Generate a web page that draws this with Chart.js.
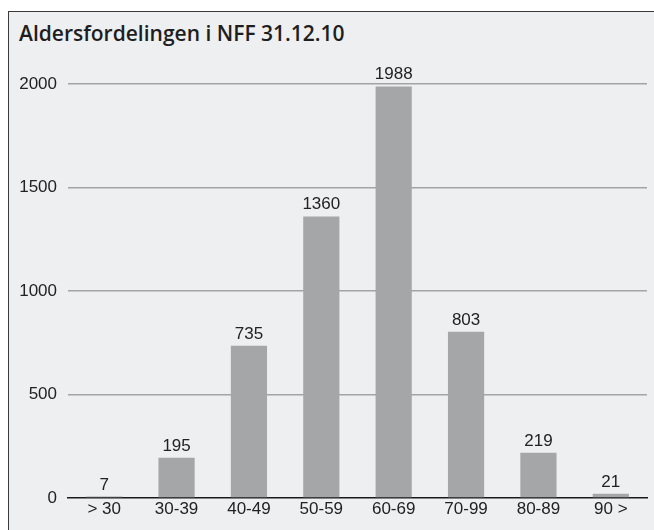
<!DOCTYPE html>
<html>
<head>
<meta charset="utf-8">
<script src="https://cdn.jsdelivr.net/npm/chart.js@4/dist/chart.umd.min.js"></script>
<style>
  html, body { margin: 0; padding: 0; background: #fff; }
  #box {
    position: absolute; left: 8px; top: 11px; width: 646px; height: 519px;
    background: #eeeff1; border-top: 1.5px solid #3a3a3a; border-left: 1.5px solid #3a3a3a;
  }
  #title {
    position: absolute; left: 10px; top: 7px; margin: 0;
    font-family: "Open Sans", sans-serif; font-weight: 600; font-size: 21px; color: #1e1e1e;
  }
  #wrap { position: absolute; left: 0; top: 0; width: 645px; height: 518px; }
</style>
</head>
<body>
<div id="box">
  <div id="title">Aldersfordelingen i NFF 31.12.10</div>
  <div id="wrap"><canvas id="c"></canvas></div>
</div>
<script>
// --- data ---
const ageGroups = ['> 30', '30-39', '40-49', '50-59', '60-69', '70-99', '80-89', '90 >'];
const members = [7, 195, 735, 1360, 1988, 803, 219, 21];
const yTicks = [0, 500, 1000, 1500, 2000];

const FONT = '"Liberation Sans", Arial, sans-serif';

// value labels over bars
const valueLabels = {
    id: 'valueLabels',
    afterDatasetsDraw(chart) {
        const ctx = chart.ctx;
        const meta = chart.getDatasetMeta(0);
        ctx.save();
        ctx.font = '17px ' + FONT;
        ctx.fillStyle = '#222';
        ctx.textAlign = 'center';
        ctx.textBaseline = 'alphabetic';
        meta.data.forEach((bar, i) => {
            ctx.fillText(String(members[i]), bar.x, bar.y - 7);
        });
        ctx.restore();
    }
};

new Chart(document.getElementById('c'), {
    type: 'bar',
    data: {
        labels: ageGroups,
        datasets: [{
            data: members,
            backgroundColor: '#a5a6a8',
            barPercentage: 0.5,
            categoryPercentage: 1
        }]
    },
    options: {
        responsive: true, maintainAspectRatio: false, animation: false,
        layout: { padding: { top: 72, right: 7, bottom: 0, left: 0 } },
        plugins: { legend: { display: false }, tooltip: { enabled: false } },
        scales: {
            x: {
                grid: { display: false, drawTicks: false },
                border: { color: '#1a1a1a', width: 1.5 },
                ticks: { color: '#222', font: { family: FONT, size: 17 }, padding: 1, maxRotation: 0 },
                afterFit: s => { s.height = 32; }
            },
            y: {
                min: 0, max: 2000,
                afterBuildTicks: s => { s.ticks = yTicks.map(v => ({ value: v })); },
                grid: {
                    drawTicks: false,
                    color: c => c.tick && c.tick.value === 0 ? 'rgba(0,0,0,0)' : '#a3a4a6',
                    lineWidth: 1.5
                },
                border: { display: false },
                ticks: {
                    color: '#222', font: { family: FONT, size: 17 }, padding: 11,
                    callback: v => String(v)
                },
                afterFit: s => { s.width = 59; }
            }
        }
    },
    plugins: [valueLabels]
});
</script>
</body>
</html>
